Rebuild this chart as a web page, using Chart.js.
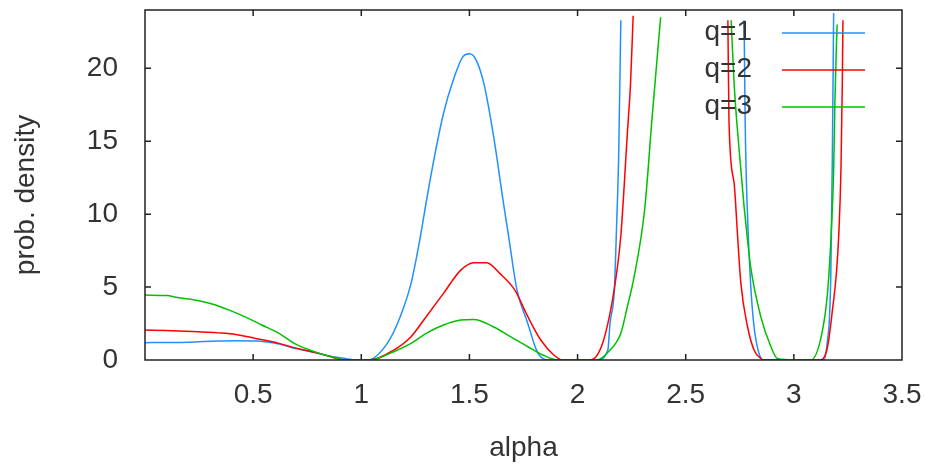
<!DOCTYPE html>
<html>
<head>
<meta charset="utf-8">
<script src="https://cdn.jsdelivr.net/npm/chart.js@4.4.1/dist/chart.umd.min.js"></script>
<style>
  html, body { margin: 0; padding: 0; background: #fff; }
  #wrap { width: 926px; height: 468px; }
</style>
</head>
<body>
<div id="wrap"><canvas id="chart" width="926" height="468"></canvas></div>
<script>
// values (null = curve runs off the top of the frame)
const q1Alpha = [0, 0.1, 0.2, 0.34, 0.42, 0.51, 0.62, 0.69, 0.77, 0.85, 0.93, 0.96, 1.0, 1.03, 1.12, 1.18, 1.23, 1.27, 1.30, 1.33, 1.38, 1.43, 1.47, 1.50, 1.53, 1.566, 1.61, 1.66, 1.68, 1.72, 1.77, 1.81, 1.84, 1.87, 2.0, 2.09, 2.14, 2.15, 2.17, 2.18, 2.19, 2.20, 2.5, 2.77, 2.775, 2.786, 2.80, 2.816, 2.839, 2.86, 3.0, 3.14, 3.156, 3.165, 3.171, 3.178, 3.184];
const q1Density = [1.19, 1.2, 1.22, 1.3, 1.32, 1.31, 1.1, 0.8, 0.57, 0.27, 0.09, 0.02, 0, 0, 1.14, 2.97, 5.25, 8.2, 10.8, 13.3, 16.9, 19.4, 20.8, 21.0, 20.6, 19.0, 15.5, 10.5, 8.6, 4.79, 2.5, 0.68, 0.1, 0, 0, 0, 0.68, 2.5, 4.8, 9, 14, 23.3, null, 23.3, 16.2, 9.8, 5.25, 2.28, 0.45, 0, 0, 0, 1.4, 3, 6, 14, 23.8];

const q2Alpha = [0, 0.1, 0.22, 0.34, 0.42, 0.51, 0.62, 0.69, 0.77, 0.85, 0.89, 0.93, 1.0, 1.04, 1.15, 1.23, 1.30, 1.38, 1.46, 1.52, 1.58, 1.64, 1.71, 1.77, 1.83, 1.89, 1.93, 2.0, 2.06, 2.11, 2.15, 2.18, 2.20, 2.23, 2.245, 2.257, 2.5, 2.695, 2.70, 2.724, 2.739, 2.755, 2.786, 2.816, 2.847, 2.86, 3.0, 3.125, 3.156, 3.179, 3.197, 3.208, 3.218, 3.224, 3.227];
const q2Density = [2.05, 2.03, 1.96, 1.86, 1.75, 1.48, 1.14, 0.85, 0.57, 0.27, 0.09, 0, 0, 0, 0.68, 1.6, 2.97, 4.57, 6.16, 6.67, 6.67, 5.94, 4.79, 2.97, 1.37, 0.34, 0, 0, 0, 0.91, 3.2, 5.9, 8.5, 15.5, 19, 23.6, null, 23.3, 16.4, 12.1, 8.7, 5.25, 2.28, 0.68, 0.1, 0, 0, 0, 0.91, 3.5, 6, 8.7, 13.2, 19, 23.3];

const q3Alpha = [0, 0.1, 0.15, 0.23, 0.31, 0.39, 0.46, 0.54, 0.62, 0.69, 0.77, 0.85, 0.93, 1.0, 1.04, 1.15, 1.23, 1.30, 1.38, 1.46, 1.52, 1.61, 1.69, 1.77, 1.84, 1.91, 2.0, 2.09, 2.15, 2.20, 2.23, 2.26, 2.31, 2.345, 2.384, 2.5, 2.71, 2.724, 2.747, 2.770, 2.786, 2.80, 2.847, 2.894, 2.924, 3.0, 3.079, 3.125, 3.155, 3.172, 3.184, 3.19, 3.196, 3.20];
const q3Density = [4.45, 4.42, 4.29, 4.11, 3.84, 3.42, 2.97, 2.4, 1.83, 1.14, 0.64, 0.27, 0, 0, 0, 0.57, 1.14, 1.83, 2.4, 2.74, 2.78, 2.28, 1.6, 0.91, 0.34, 0, 0, 0, 0.68, 1.83, 3.65, 5.6, 10.3, 16.7, 23.5, null, 23.3, 18.9, 14.4, 10.5, 8.2, 6.4, 2.97, 0.91, 0.1, 0, 0, 1.5, 4.5, 8.5, 13, 17.8, 21.2, 23];

const seriesLabels = ['q=1', 'q=2', 'q=3'];
const seriesColors = ['rgb(30,144,255)', 'rgb(255,0,0)', 'rgb(0,192,0)'];

const FONT = "'Liberation Sans', Arial, sans-serif";
const TEXT = '#333';

const toPoints = (xs, ys) => xs.map((x, i) => ({ x: x, y: ys[i] }));

// gnuplot-style frame with inward ticks, the y title, and the key in the top right
const frameAndKey = {
  id: 'frameAndKey',
  afterDraw(chart) {
    const { ctx, chartArea: a, scales } = chart;
    ctx.save();
    ctx.strokeStyle = '#222';
    ctx.lineWidth = 1.5;
    ctx.strokeRect(a.left, a.top, a.right - a.left, a.bottom - a.top);

    ctx.beginPath();
    scales.x.ticks.forEach(t => {
      const px = scales.x.getPixelForValue(t.value);
      if (px <= a.left + 1 || px >= a.right - 1) return;
      ctx.moveTo(px, a.bottom); ctx.lineTo(px, a.bottom - 6);
      ctx.moveTo(px, a.top); ctx.lineTo(px, a.top + 6);
    });
    scales.y.ticks.forEach(t => {
      const py = scales.y.getPixelForValue(t.value);
      if (py <= a.top + 1 || py >= a.bottom - 1) return;
      ctx.moveTo(a.left, py); ctx.lineTo(a.left + 6, py);
      ctx.moveTo(a.right, py); ctx.lineTo(a.right - 6, py);
    });
    ctx.stroke();

    ctx.font = '28px ' + FONT;
    ctx.fillStyle = TEXT;

    // y title, a bit below the frame centre like the original
    ctx.save();
    ctx.translate(26, 195);
    ctx.rotate(-Math.PI / 2);
    ctx.textAlign = 'center';
    ctx.textBaseline = 'middle';
    ctx.fillText('prob. density', 0, 0);
    ctx.restore();

    // key
    ctx.textAlign = 'right';
    ctx.textBaseline = 'middle';
    chart.data.datasets.forEach((ds, i) => {
      const rowY = 32 + i * 37;
      ctx.fillStyle = TEXT;
      ctx.fillText(ds.label, 752, rowY);
      ctx.strokeStyle = ds.borderColor;
      ctx.lineWidth = 1.5;
      ctx.beginPath();
      ctx.moveTo(782, rowY + 1);
      ctx.lineTo(865, rowY + 1);
      ctx.stroke();
    });
    ctx.restore();
  }
};

const datasets = [
  toPoints(q1Alpha, q1Density),
  toPoints(q2Alpha, q2Density),
  toPoints(q3Alpha, q3Density)
].map((pts, i) => ({
  label: seriesLabels[i],
  data: pts,
  borderColor: seriesColors[i],
  backgroundColor: seriesColors[i],
  borderWidth: 1.5,
  pointRadius: 0,
  cubicInterpolationMode: 'monotone',
  spanGaps: false,
  order: 3 - i
}));

new Chart(document.getElementById('chart'), {
  type: 'line',
  data: { datasets: datasets },
  options: {
    responsive: false,
    animation: false,
    devicePixelRatio: 1,
    layout: { padding: { top: 10, right: 24, left: 0, bottom: 0 } },
    plugins: {
      legend: { display: false },
      tooltip: { enabled: false }
    },
    scales: {
      x: {
        type: 'linear',
        min: 0,
        max: 3.5,
        afterFit: s => {
          s.height = 108;
          s.paddingLeft = 0; s.paddingRight = 0;
        },
        grid: { display: false, drawTicks: false },
        border: { display: false },
        ticks: {
          stepSize: 0.5,
          padding: 18,
          color: TEXT,
          font: { family: FONT, size: 28 },
          maxRotation: 0,
          callback: v => (v === 0 ? '' : v)
        },
        title: {
          display: true,
          text: 'alpha',
          color: TEXT,
          font: { family: FONT, size: 28 },
          padding: { top: 0, bottom: 3 }
        }
      },
      y: {
        min: 0,
        max: 24,
        afterFit: s => {
          s.width = 145;
          s.paddingTop = 0; s.paddingBottom = 0;
        },
        grid: { display: false, drawTicks: false },
        border: { display: false },
        ticks: {
          stepSize: 5,
          includeBounds: false,
          padding: 27,
          color: TEXT,
          font: { family: FONT, size: 28 }
        }
      }
    }
  },
  plugins: [frameAndKey]
});
</script>
</body>
</html>
